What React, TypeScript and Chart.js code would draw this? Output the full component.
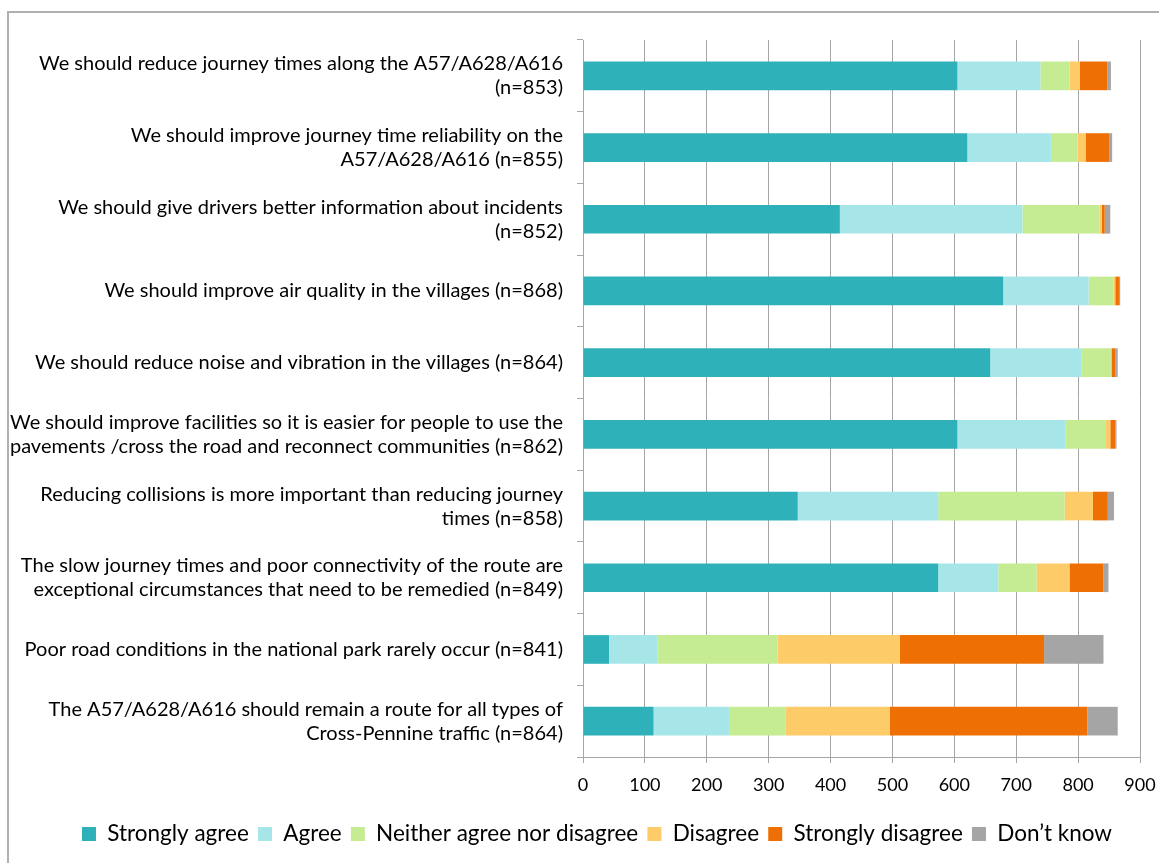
import React, { useEffect, useRef } from 'react';
import { Chart, registerables } from 'chart.js';

Chart.register(...registerables);

const categories: string[][] = [
  ['We should reduce journey times along the A57/A628/A616', '(n=853)'],
  ['We should improve journey time reliability on the', 'A57/A628/A616 (n=855)'],
  ['We should give drivers better information about incidents', '(n=852)'],
  ['We should improve air quality in the villages (n=868)'],
  ['We should reduce noise and vibration in the villages (n=864)'],
  ['We should improve facilities so it is easier for people to use the', 'pavements /cross the road and reconnect communities (n=862)'],
  ['Reducing collisions is more important than reducing journey', 'times (n=858)'],
  ['The slow journey times and poor connectivity of the route are', 'exceptional circumstances that need to be remedied (n=849)'],
  ['Poor road conditions in the national park rarely occur (n=841)'],
  ['The A57/A628/A616 should remain a route for all types of', 'Cross-Pennine traffic (n=864)'],
];

const stronglyAgree = [605, 621, 415, 679, 658, 605, 347, 574, 42, 114];
const agree = [134, 135, 295, 138, 148, 175, 227, 97, 78, 122];
const neither = [47, 43, 125, 40, 47, 65, 204, 62, 194, 91];
const disagree = [17, 13, 3, 3, 1, 7, 46, 53, 198, 169];
const stronglyDisagree = [44, 38, 5, 6, 6, 8, 24, 55, 233, 319];
const dontKnow = [6, 5, 9, 2, 4, 2, 10, 8, 96, 49];

const seriesNames = ['Strongly agree', 'Agree', 'Neither agree nor disagree', 'Disagree', 'Strongly disagree', 'Don\u2019t know'];
const seriesData = [stronglyAgree, agree, neither, disagree, stronglyDisagree, dontKnow];
const seriesColors = ['#2FB1BA', '#A6E6E8', '#C5EB93', '#FECB69', '#EE7004', '#A5A5A5'];

const xMin = 0;
const xMax = 900;
const xStep = 100;

const FONT = 'Lato, "Open Sans", sans-serif';
const GRID = '#a6a6a6';

const legendShift = {
  id: 'legendShift',
  afterLayout(chart: any) {
    if (chart.legend) {
      chart.legend.left = 54;
    }
  },
};

export default function App() {
  const canvasRef = useRef<HTMLCanvasElement | null>(null);

  useEffect(() => {
    if (!canvasRef.current) return;
    const chart = new Chart(canvasRef.current, {
      type: 'bar',
      data: {
        labels: categories,
        datasets: seriesNames.map((name, i) => ({
          label: name,
          data: seriesData[i],
          backgroundColor: seriesColors[i],
          borderWidth: 0,
          barPercentage: 0.4,
          categoryPercentage: 1,
        })),
      },
      plugins: [legendShift],
      options: {
        indexAxis: 'y',
        animation: false,
        responsive: false,
        maintainAspectRatio: false,
        layout: { padding: { left: 0, right: 19, top: 40, bottom: 7.75 } },
        plugins: {
          tooltip: { enabled: false },
          legend: {
            position: 'bottom',
            labels: {
              boxWidth: 14,
              boxHeight: 14,
              padding: 9.2,
              color: '#000',
              font: { family: FONT, size: 22.5 },
            },
          },
        },
        scales: {
          x: {
            stacked: true,
            min: xMin,
            max: xMax,
            ticks: {
              stepSize: xStep,
              color: '#000',
              font: { family: FONT, size: 18 },
              padding: 11,
              maxRotation: 0,
            },
            grid: { color: GRID, lineWidth: 1, tickLength: 6, drawTicks: true },
            border: { display: true, color: GRID, width: 1 },
            afterFit: (scale: any) => {
              scale.height = 56.55;
              scale.paddingLeft = 0;
              scale.paddingRight = 0;
            },
          },
          y: {
            stacked: true,
            ticks: {
              color: '#000',
              font: { family: FONT, size: 20, lineHeight: 1.2 },
              padding: 14,
              autoSkip: false,
            },
            grid: { drawOnChartArea: false, drawTicks: true, tickLength: 6, color: GRID, offset: true },
            border: { display: true, color: GRID, width: 1 },
            afterFit: (scale: any) => {
              scale.width = 583;
            },
          },
        },
      },
    });
    return () => chart.destroy();
  }, []);

  return (
    <div>
      <div
        style={{
          position: 'absolute',
          left: 7,
          top: 11,
          width: 1152,
          height: 852,
          borderTop: '2px solid #b0b0b0',
          borderLeft: '2px solid #b0b0b0',
          boxSizing: 'border-box',
          pointerEvents: 'none',
        }}
      />
      <canvas
        ref={canvasRef}
        width={1159}
        height={863}
        style={{ position: 'absolute', left: 0, top: 0, width: 1159, height: 863 }}
      />
    </div>
  );
}
